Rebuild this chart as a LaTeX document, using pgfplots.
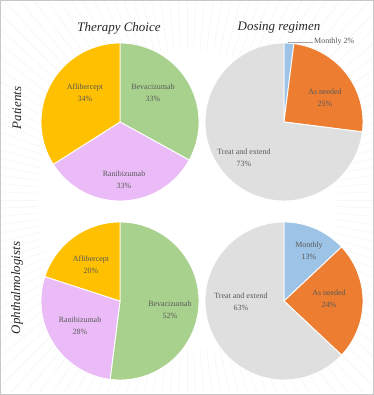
\documentclass[border=0pt]{standalone}
\usepackage{pgfplots}
\pgfplotsset{compat=1.18}
\usepackage{fontspec}
\setmainfont{Liberation Serif}
\definecolor{cBev}{HTML}{A9D18E}
\definecolor{cRan}{HTML}{EABBF6}
\definecolor{cAfl}{HTML}{FFC000}
\definecolor{cMon}{HTML}{9DC3E6}
\definecolor{cAsn}{HTML}{ED7D31}
\definecolor{cTre}{HTML}{DFDFDF}
\definecolor{lab}{HTML}{595959}
\definecolor{ttl}{HTML}{262626}
% slice: cx, cy, cumulative percent before slice, percent, colour
\newcommand\slice[5]{%
  \pgfmathsetmacro\sa{90-3.6*#3}%
  \pgfmathsetmacro\ea{90-3.6*(#3+#4)}%
  \edef\doslice{\noexpand\addplot[fill=#5, draw=white, line width=0.9pt, domain=\ea:\sa, samples=90, variable=\noexpand\t] ({#1+79*cos(\noexpand\t)},{#2-79*sin(\noexpand\t)}) -- (axis cs:#1,#2) -- cycle;}%
  \doslice
}
\tikzset{lbl/.style={align=center, font=\fontsize{8}{12}\selectfont, text=lab}}
\begin{document}
\begin{tikzpicture}
\begin{axis}[width=374bp, height=395bp, scale only axis, xmin=0, xmax=374, ymin=0, ymax=395, y dir=reverse, hide axis, clip=false]
% background rays
\begin{scope}
\clip (axis cs:0,0) rectangle (axis cs:374,395);
\pgfplotsinvokeforeach{0,2.5,...,357.5}{\draw[black!3, line width=0.8pt] (axis cs:187,200) ++(#1:150bp) -- ++(#1:300bp);}
\end{scope}
\draw[black!22, line width=0.6pt] (axis cs:0.5,0.5) rectangle (axis cs:373.5,394.5);
% Patients - Therapy choice: Bevacizumab 33, Ranibizumab 33, Aflibercept 34
\slice{120}{122}{0}{33}{cBev}
\slice{120}{122}{33}{33}{cRan}
\slice{120}{122}{66}{34}{cAfl}
% Patients - Dosing: Monthly 2, As needed 25, Treat and extend 73
\slice{284}{122}{0}{2}{cMon}
\slice{284}{122}{2}{25}{cAsn}
\slice{284}{122}{27}{73}{cTre}
% Ophthalmologists - Therapy: Bevacizumab 52, Ranibizumab 28, Aflibercept 20
\slice{120}{301}{0}{52}{cBev}
\slice{120}{301}{52}{28}{cRan}
\slice{120}{301}{80}{20}{cAfl}
% Ophthalmologists - Dosing: Monthly 13, As needed 24, Treat and extend 63
\slice{284}{301}{0}{13}{cMon}
\slice{284}{301}{13}{24}{cAsn}
\slice{284}{301}{37}{63}{cTre}
% titles
\node[font=\fontsize{13}{15}\selectfont\itshape, text=ttl] at (axis cs:119,28) {Therapy Choice};
\node[font=\fontsize{13}{15}\selectfont\itshape, text=ttl] at (axis cs:279,28) {Dosing regimen};
\node[font=\fontsize{13}{15}\selectfont\itshape, text=ttl, rotate=90] at (axis cs:17,108) {Patients};
\node[font=\fontsize{13}{15}\selectfont\itshape, text=ttl, rotate=90] at (axis cs:17,288) {Ophthalmologists};
% labels
\node[lbl] at (axis cs:85,93) {Aflibercept\\34\%};
\node[lbl] at (axis cs:153,93) {Bevacizumab\\33\%};
\node[lbl] at (axis cs:124,180) {Ranibizumab\\33\%};
\node[lbl] at (axis cs:325,98) {As needed\\25\%};
\node[lbl] at (axis cs:244,158) {Treat and extend\\73\%};
\draw[black!35, line width=0.5pt] (axis cs:288,42.5) -- (axis cs:313,42.5);
\node[lbl, anchor=west, inner sep=1pt] at (axis cs:313,42) {Monthly 2\%};
\node[lbl] at (axis cs:91,265) {Aflibercept\\20\%};
\node[lbl] at (axis cs:170,310) {Bevacizumab\\52\%};
\node[lbl] at (axis cs:80,326) {Ranibizumab\\28\%};
\node[lbl] at (axis cs:309,251) {Monthly\\13\%};
\node[lbl] at (axis cs:329,299) {As needed\\24\%};
\node[lbl] at (axis cs:241,302) {Treat and extend\\63\%};
\end{axis}
\end{tikzpicture}
\end{document}
